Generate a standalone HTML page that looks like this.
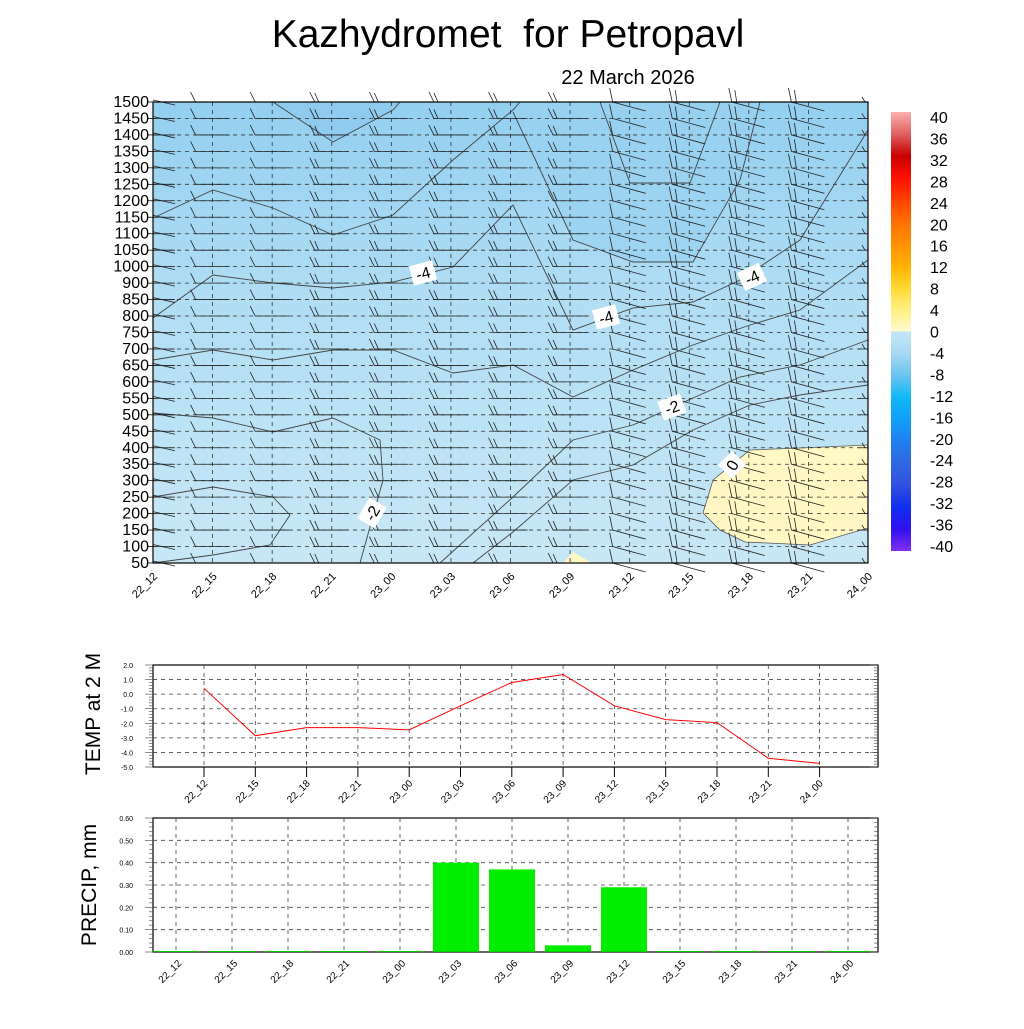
<!DOCTYPE html>
<html><head><meta charset="utf-8"><style>
body{margin:0;background:#fff;width:1024px;height:1024px;overflow:hidden;font-family:"Liberation Sans",sans-serif}
svg text{font-family:"Liberation Sans",sans-serif}
</style></head><body>
<svg id="s" width="1024" height="1024" viewBox="0 0 1024 1024" xmlns="http://www.w3.org/2000/svg">
<defs>
<linearGradient id="bg" x1="0" y1="0" x2="0" y2="1">
<stop offset="0" stop-color="#92cfef"/><stop offset="0.45" stop-color="#b2def4"/><stop offset="1" stop-color="#c8e7f6"/>
</linearGradient>
<linearGradient id="cb" x1="0" y1="0" x2="0" y2="1">
<stop offset="0" stop-color="#fbb0b0"/><stop offset="0.05" stop-color="#e06060"/><stop offset="0.1" stop-color="#c80000"/><stop offset="0.15" stop-color="#ff1000"/><stop offset="0.2" stop-color="#ff4000"/><stop offset="0.25" stop-color="#ff7000"/><stop offset="0.3" stop-color="#ff9000"/><stop offset="0.35" stop-color="#ffb000"/><stop offset="0.4" stop-color="#ffd830"/><stop offset="0.45" stop-color="#fff080"/><stop offset="0.5" stop-color="#fffad0"/>
<stop offset="0.5" stop-color="#c6e6f6"/><stop offset="0.55" stop-color="#a6d9f2"/><stop offset="0.6" stop-color="#6ac4ee"/><stop offset="0.65" stop-color="#10b8f8"/><stop offset="0.7" stop-color="#10a0f8"/><stop offset="0.75" stop-color="#2080f0"/><stop offset="0.8" stop-color="#3068e0"/><stop offset="0.85" stop-color="#3050e0"/><stop offset="0.9" stop-color="#1030f0"/><stop offset="0.95" stop-color="#3010f0"/><stop offset="1" stop-color="#8030f0"/>
</linearGradient>
</defs>
<text x="508" y="47" font-size="39" text-anchor="middle">Kazhydromet&#160; for Petropavl</text>
<text x="628" y="84" font-size="20" text-anchor="middle">22 March 2026</text>
<rect x="153" y="102" width="715" height="461" fill="url(#bg)"/>
<polygon points="273,102 333,142 393,110 400,102" fill="#8ecbee"/>
<polygon points="513,110 573,240 633,262 693,262 740,180 760,102 520,102" fill="#98d1f0" opacity="0.7"/>
<polygon points="703,513 713,480 750,450 800,448 868,445 868,528 810,545 745,542 720,530" fill="#fff8c4" stroke="#555" stroke-width="0.8"/>
<polygon points="563,563 573,552 592,563" fill="#fff8c4"/>
<g fill="none" stroke="#444" stroke-width="0.9">
<polyline points="273,102 333,142 393,110 400,102"/>
<polyline points="153,218 213,190 273,208 333,235 393,215 453,160 513,110 520,102"/>
<polyline points="513,112 573,240 633,262 693,262 740,180 760,102"/>
<polyline points="600,102 630,183 690,183 720,102"/>
<polyline points="153,318 213,275 273,283 333,288 393,282 453,267 513,205 573,330 633,308 693,302 740,280 800,240 868,130"/>
<polyline points="153,360 213,350 273,360 333,350 393,350 453,373 513,365 573,397 633,370 693,345 750,325 800,310 868,260"/>
<polyline points="153,413 213,418 273,432 333,418 380,440 383,480 360,563"/>
<polyline points="153,497 213,487 273,497 290,515 270,545 213,555 153,563"/>
<polyline points="440,563 513,497 573,440 633,425 673,407 740,377 800,365 868,340"/>
<polyline points="473,563 513,532 573,480 633,465 693,430 750,405 800,395 868,385"/>
</g>
<g id="grid" stroke="#333" stroke-width="0.8" stroke-dasharray="4,4" fill="none"></g>
<g id="barbs" stroke="#222" stroke-width="0.8" fill="none"></g>
<rect x="153" y="102" width="715" height="461" fill="none" stroke="#000" stroke-width="1.2"/>
<g id="lbl" font-size="11"></g>
<g font-size="16">
<rect x="411" y="263" width="24" height="20" fill="#fff" transform="rotate(-15 423 273)"/><text x="423" y="279" text-anchor="middle" transform="rotate(-15 423 273)">-4</text>
<rect x="594" y="307" width="24" height="20" fill="#fff" transform="rotate(-15 606 317)"/><text x="606" y="323" text-anchor="middle" transform="rotate(-15 606 317)">-4</text>
<rect x="740" y="267" width="24" height="20" fill="#fff" transform="rotate(-25 752 277)"/><text x="752" y="283" text-anchor="middle" transform="rotate(-25 752 277)">-4</text>
<rect x="660" y="397" width="24" height="20" fill="#fff" transform="rotate(-20 672 407)"/><text x="672" y="413" text-anchor="middle" transform="rotate(-20 672 407)">-2</text>
<rect x="360" y="503" width="24" height="20" fill="#fff" transform="rotate(-60 372 513)"/><text x="372" y="519" text-anchor="middle" transform="rotate(-60 372 513)">-2</text>
<rect x="722" y="455" width="20" height="20" fill="#fff" transform="rotate(-45 732 465)"/><text x="732" y="471" text-anchor="middle" transform="rotate(-60 732 465)">0</text>
</g>
<rect x="891" y="112" width="20" height="439" fill="url(#cb)"/>
<g id="cbl" font-size="16"></g>
<rect x="153" y="665" width="725" height="102" fill="none" stroke="#000" stroke-width="1.2"/>
<g id="tg"></g>
<text transform="translate(100 714) rotate(-90)" font-size="21" text-anchor="middle">TEMP at 2 M</text>
<rect x="153" y="818" width="725" height="134" fill="none" stroke="#000" stroke-width="1.2"/>
<g id="pg"></g>
<text transform="translate(96 885) rotate(-90)" font-size="21" text-anchor="middle">PRECIP, mm</text>
</svg>
<script>
const NS="http://www.w3.org/2000/svg";
function el(p,t,a,txt){const e=document.createElementNS(NS,t);for(const k in a)e.setAttribute(k,a[k]);if(txt!==undefined)e.textContent=txt;document.getElementById(p).appendChild(e);return e;}
const times=["22_12","22_15","22_18","22_21","23_00","23_03","23_06","23_09","23_12","23_15","23_18","23_21","24_00"];
const lev=[1500,1450,1400,1350,1300,1250,1200,1150,1100,1050,1000,900,850,800,750,700,650,600,550,500,450,400,350,300,250,200,150,100,50];
const dy=461/28,dx=715/12;
lev.forEach((l,i)=>{const y=102+i*dy;
 if(i>0&&i<28)el("grid","line",{x1:153,x2:868,y1:y,y2:y});
 el("lbl","text",{x:149,y:y+5,"text-anchor":"end","font-size":"16"},l);
 el("barbs","line",{x1:147,x2:153,y1:y,y2:y,stroke:"#000"});});
times.forEach((t,j)=>{const x=153+j*dx;
 if(j>0&&j<12)el("grid","line",{x1:x,x2:x,y1:102,y2:563});
 el("lbl","text",{x:0,y:0,"text-anchor":"end",transform:`translate(${x+5} 577) rotate(-45)`},t);
 lev.forEach((l,i)=>{const y=102+i*dy;
  if(j==0){el("barbs","line",{x1:153,y1:y,x2:175,y2:y});el("barbs","line",{x1:153,y1:y-2,x2:175,y2:y+3});return;}
  if(j<8){el("barbs","polyline",{points:`${x-22},${y-10} ${x-17},${y} ${x+17},${y}`});
   if(j>=3)el("barbs","line",{x1:x-17,y1:y-9,x2:x-13,y2:y});}
  else if(j<12){el("barbs","polyline",{points:`${x-20},${y-14} ${x-17},${y} ${x+16},${y+9}`});
   if(j>=9)el("barbs","line",{x1:x-14,y1:y-12,x2:x-12,y2:y+1});}
  else{el("barbs","line",{x1:x-10,y1:y,x2:x,y2:y});el("barbs","line",{x1:x-6,y1:y-5,x2:x-3,y2:y});}
 });});
for(let v=40;v>=-40;v-=4){const y=117+(40-v)/4*21.45;el("cbl","text",{x:930,y:y+6},v);}
const tv=[0.4,-2.85,-2.3,-2.3,-2.45,-0.8,0.8,1.35,-0.8,-1.75,-1.95,-4.4,-4.75];
const ty=v=>665+(2-v)*102/7;
for(let v=2;v>=-5;v--){const y=ty(v);
 if(v<2&&v>-5)el("tg","line",{x1:153,x2:878,y1:y,y2:y,stroke:"#444","stroke-dasharray":"4,4","stroke-width":0.8});
 el("tg","text",{x:133,y:y+3,"font-size":"7","text-anchor":"end"},v.toFixed(1));}
for(let k=0;k<=35;k++){const y=665+k*102/35;el("tg","line",{x1:153,x2:k%5?149:145,y1:y,y2:y,stroke:"#444","stroke-width":0.6});el("tg","line",{x1:878,x2:k%5?874:870,y1:y,y2:y,stroke:"#444","stroke-width":0.6});}
let pts=[];times.forEach((t,i)=>{const x=204+i*51.3;pts.push(x+","+ty(tv[i]));
 el("tg","line",{x1:x,x2:x,y1:665,y2:767,stroke:"#444","stroke-dasharray":"4,4","stroke-width":0.8});
 el("tg","line",{x1:x,x2:x,y1:767,y2:777,stroke:"#000"});
 el("tg","text",{x:0,y:0,"font-size":"10","text-anchor":"end",transform:`translate(${x+4} 784) rotate(-45)`},t);});
el("tg","polyline",{points:pts.join(" "),fill:"none",stroke:"#f00","stroke-width":1});
const pv=[0,0,0,0,0,0.40,0.37,0.03,0.29,0,0,0,0];
const py=v=>952-v*134/0.6;
for(let k=0;k<=6;k++){const v=k/10,y=py(v);
 if(k>0&&k<6)el("pg","line",{x1:153,x2:878,y1:y,y2:y,stroke:"#444","stroke-dasharray":"4,4","stroke-width":0.8});
 el("pg","text",{x:133,y:y+3,"font-size":"7","text-anchor":"end"},v.toFixed(2));}
for(let k=0;k<=30;k++){const y=818+k*134/30;el("pg","line",{x1:153,x2:k%5?149:145,y1:y,y2:y,stroke:"#444","stroke-width":0.6});el("pg","line",{x1:878,x2:k%5?874:870,y1:y,y2:y,stroke:"#444","stroke-width":0.6});}
times.forEach((t,i)=>{const x=176+i*56;
 el("pg","line",{x1:x,x2:x,y1:818,y2:952,stroke:"#444","stroke-dasharray":"4,4","stroke-width":0.8});
 if(pv[i]>0)el("pg","rect",{x:x-23,y:py(pv[i]),width:46,height:952-py(pv[i]),fill:"#00ee00"});
 el("pg","line",{x1:x-23,x2:x+23,y1:951.5,y2:951.5,stroke:"#00cc00"});
 el("pg","text",{x:0,y:0,"font-size":"10","text-anchor":"end",transform:`translate(${x+6} 964) rotate(-45)`},t);});
</script>
</body></html>
